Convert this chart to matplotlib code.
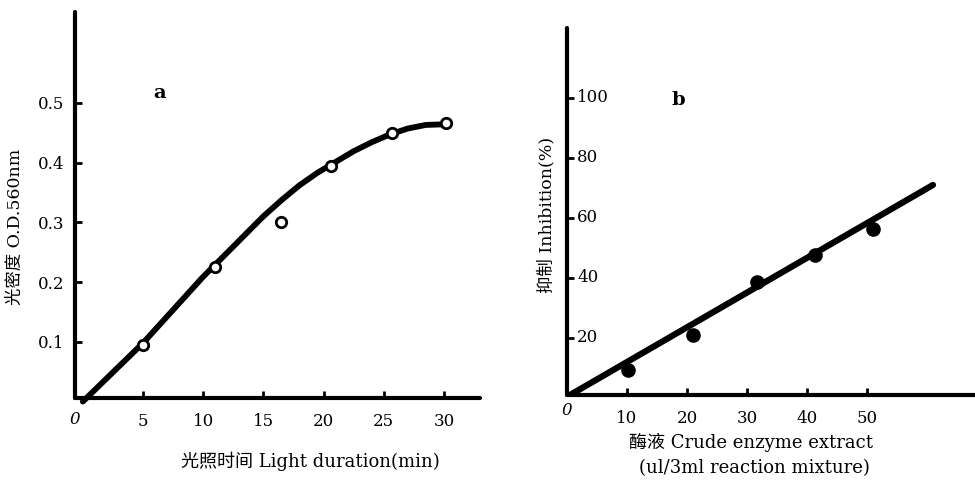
import matplotlib
matplotlib.use("Agg")
import matplotlib.pyplot as plt

plt.rcParams['font.family'] = ['DejaVu Serif', 'Noto Sans CJK SC']

# ---- Panel a data ----
a_x = [5, 11.0, 16.5, 20.6, 25.7, 30.2]
a_y = [0.095, 0.226, 0.300, 0.395, 0.449, 0.466]
a_curve_x = [0.0, 5, 10, 15, 16.5, 18, 19.5, 21, 22.5, 24, 25.5, 27, 28.5, 30]
a_curve_y = [0.0, 0.098, 0.209, 0.310, 0.337, 0.362, 0.383, 0.401, 0.419, 0.434, 0.447, 0.457, 0.463, 0.464]
a_xticks = [5, 10, 15, 20, 25, 30]
a_xticklabels = ['5', '10', '15', '20', '25', '30']
a_yticks = [0.1, 0.2, 0.3, 0.4, 0.5]
a_yticklabels = ['0.1', '0.2', '0.3', '0.4', '0.5']

# ---- Panel b data ----
b_x = [10.2, 21.0, 31.7, 41.4, 51.0]
b_y = [9.3, 21.0, 38.8, 47.7, 56.2]
b_line_x = [0.5, 61.0]
b_line_y = [1.0, 71.0]
b_xticks = [10, 20, 30, 40, 50]
b_xticklabels = ['10', '20', '30', '40', '50']
b_yticks = [20, 40, 60, 80, 100]
b_yticklabels = ['20', '40', '60', '80', '100']

W, H = 975, 480
fig = plt.figure(figsize=(W / 100, H / 100), dpi=100)


def frac(left, top, right, bottom):
    return [left / W, (H - bottom) / H, (right - left) / W, (bottom - top) / H]


def style(ax):
    for s in ['top', 'right']:
        ax.spines[s].set_visible(False)
    for s in ['left', 'bottom']:
        ax.spines[s].set_linewidth(3.0)
        ax.spines[s].set_capstyle('round')
    ax.tick_params(direction='in', length=5, width=2)


# ---------------- Panel a ----------------
axa = fig.add_axes(frac(75, 12, 480, 398))
style(axa)
axa.set_xlim(-0.65, 33.0)
axa.set_ylim(0.006, 0.652)
axa.plot(a_curve_x, a_curve_y, color='black', lw=4.2, solid_capstyle='round',
         zorder=2, clip_on=False)
axa.plot(a_x, a_y, 'o', ms=7.5, mfc='white', mec='black', mew=2.0, zorder=3)
axa.set_xticks(a_xticks)
axa.set_xticklabels(a_xticklabels)
axa.set_yticks(a_yticks)
axa.set_yticklabels(a_yticklabels)
axa.tick_params(axis='x', pad=11, labelsize=12)
axa.tick_params(axis='y', pad=8, labelsize=12)
axa.text(0.0, -0.055, '0', transform=axa.transAxes, ha='center', va='center',
         fontsize=12, style='italic')
axa.text(6.4, 0.517, 'a', fontsize=14, fontweight='bold', ha='center', va='center')
axa.set_xlabel('光照时间 Light duration(min)', fontsize=13)
axa.xaxis.set_label_coords(0.58, -0.14)
axa.set_ylabel('光密度 O.D.560nm', fontsize=12.5)
axa.yaxis.set_label_coords(-0.125, 0.443)

# ---------------- Panel b ----------------
axb = fig.add_axes(frac(567, 28, 975, 395))
style(axb)
axb.set_xlim(0, 68)
axb.set_ylim(1.0, 123.3)
axb.plot(b_line_x, b_line_y, color='black', lw=4.5, solid_capstyle='round', zorder=2)
axb.plot(b_x, b_y, 'o', ms=9.5, color='black', zorder=3)
axb.set_xticks(b_xticks)
axb.set_xticklabels(b_xticklabels)
axb.set_yticks(b_yticks)
axb.set_yticklabels([])
axb.tick_params(axis='x', pad=11, labelsize=12)
ytrans = axb.get_yaxis_transform()
for v, lab in zip(b_yticks, b_yticklabels):
    axb.text(0.025, v, lab, transform=ytrans, ha='left', va='center', fontsize=12)
axb.text(0.0, -0.02, '0', transform=axb.transAxes, ha='center', va='top',
         fontsize=12, style='italic')
axb.text(18.5, 99.3, 'b', fontsize=14, fontweight='bold', ha='center', va='center')
axb.text(0.45, -0.13, '酶液 Crude enzyme extract', transform=axb.transAxes,
         ha='center', va='center', fontsize=13)
axb.text(0.46, -0.2, '(ul/3ml reaction mixture)', transform=axb.transAxes,
         ha='center', va='center', fontsize=13)
axb.set_ylabel('抑制 Inhibition(%)', fontsize=12.5)
axb.yaxis.set_label_coords(-0.028, 0.49)

fig.savefig('out.png', dpi=100)
